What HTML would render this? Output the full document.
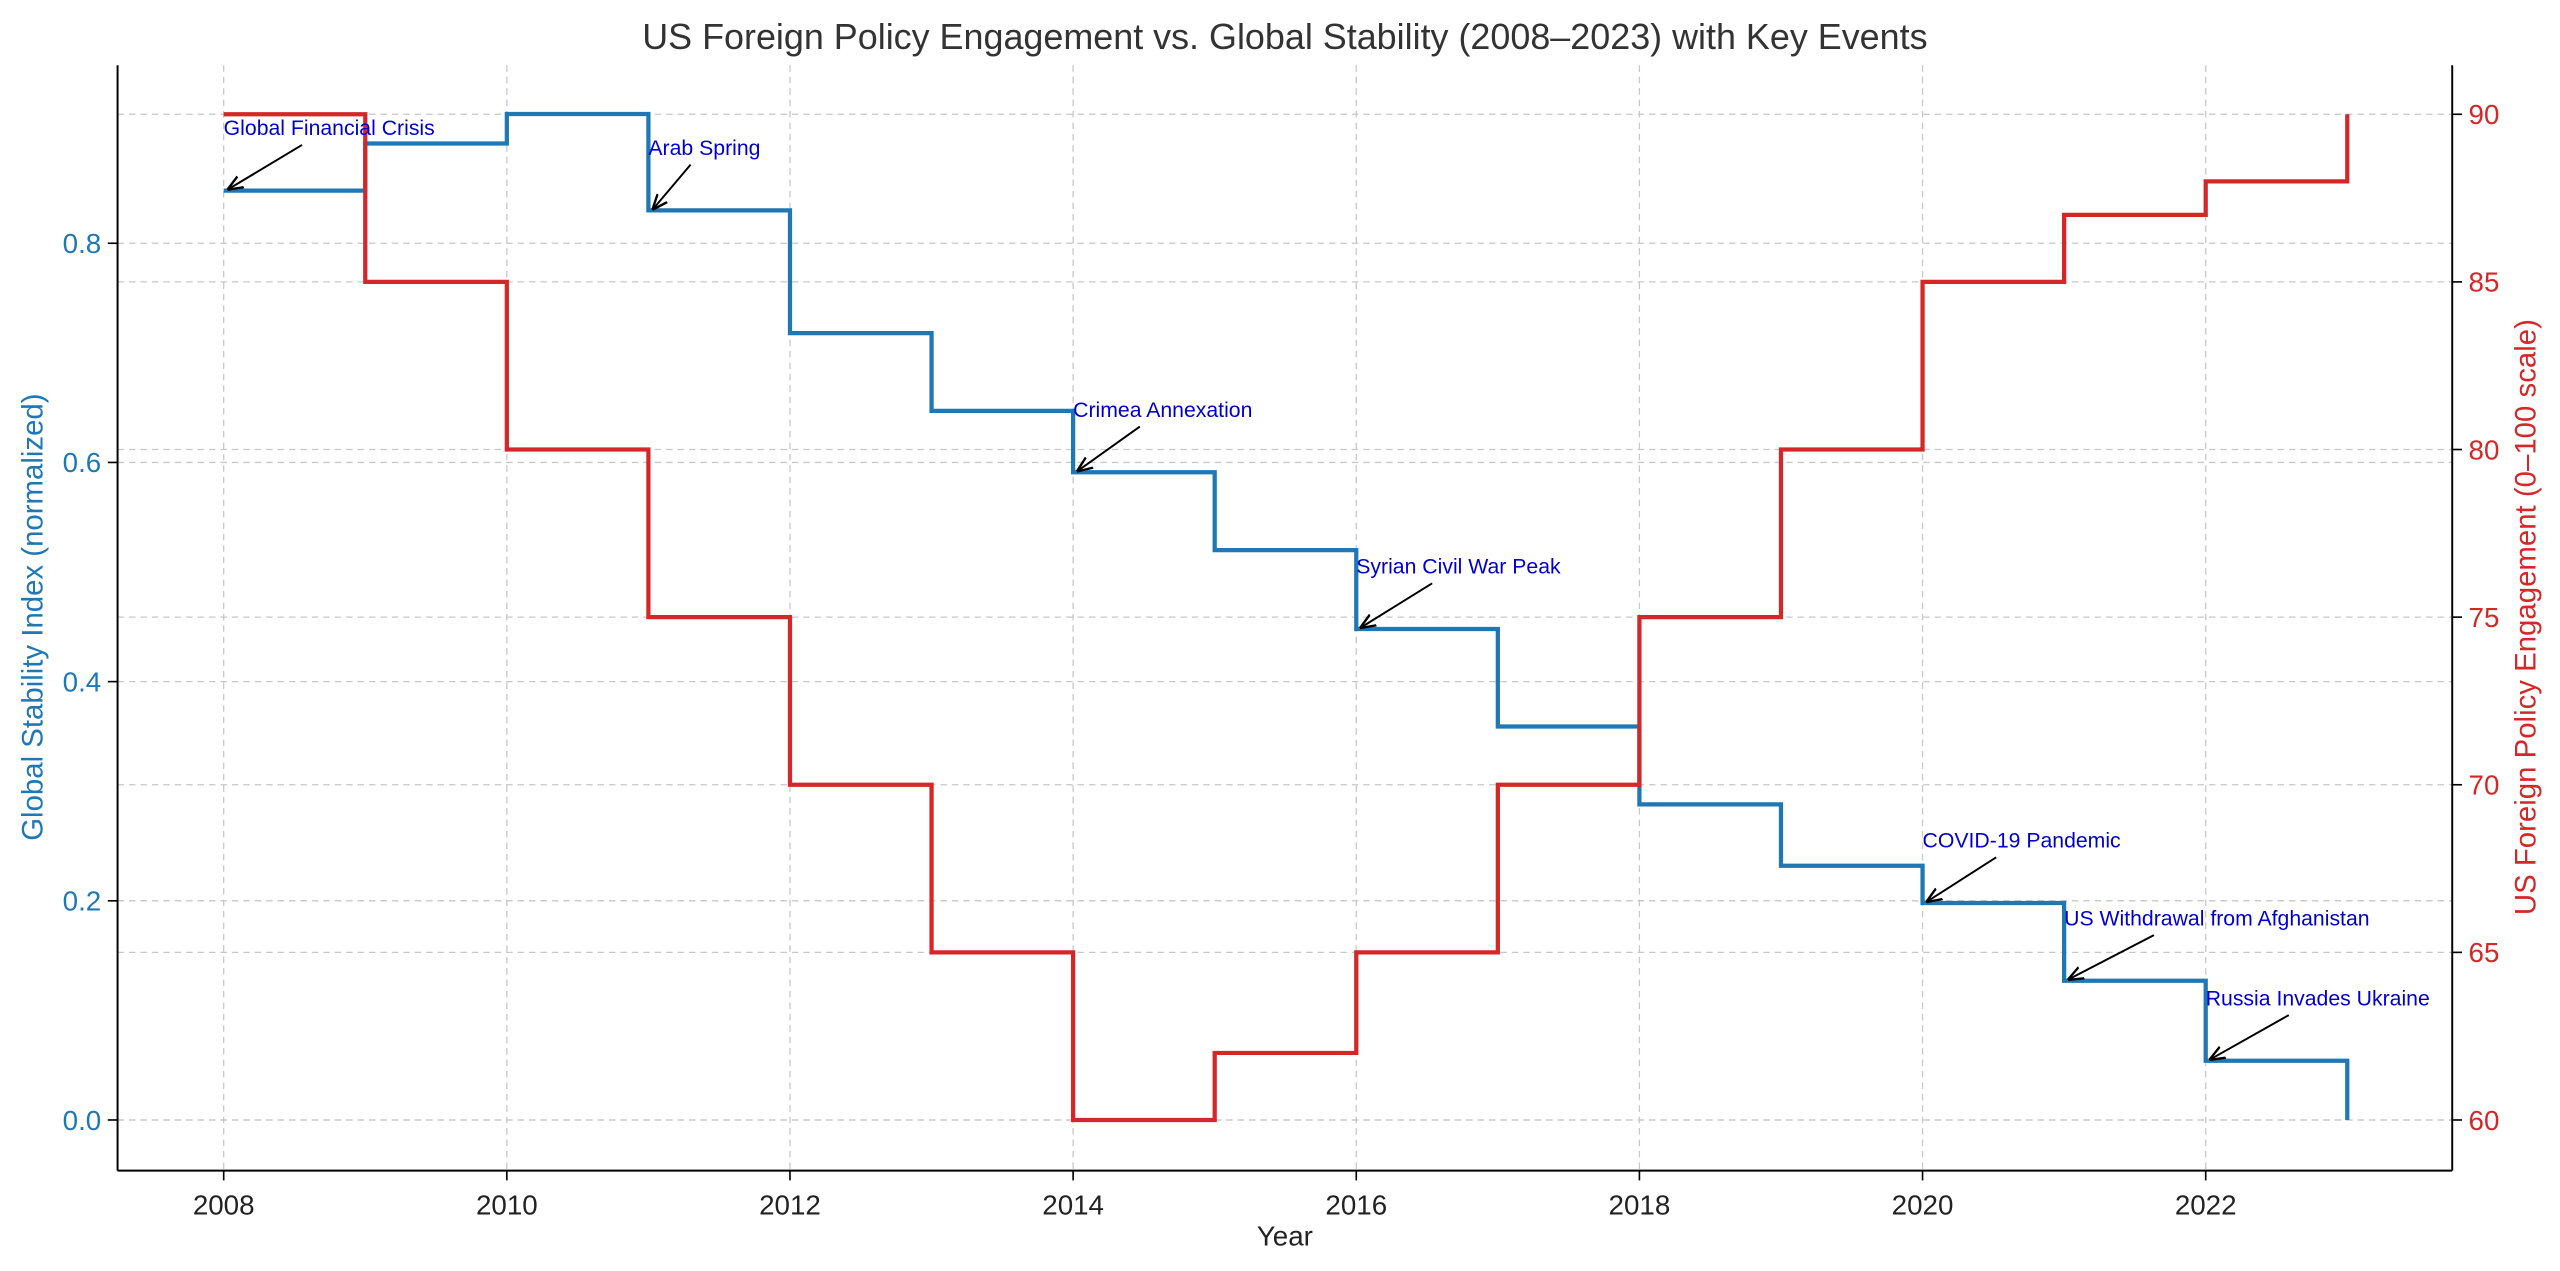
<!DOCTYPE html>
<html><head><meta charset="utf-8"><style>
html,body{margin:0;padding:0;background:#fff;overflow:hidden;}
svg{display:block;font-family:"Liberation Sans","DejaVu Sans",sans-serif;}
</style></head><body>
<svg id="chart" width="2560" height="1271" viewBox="0 0 1568 778.5" xmlns="http://www.w3.org/2000/svg">
<rect width="1568" height="778.5" fill="#fff"/>
<text x="787" y="30" text-anchor="middle" font-size="22" fill="#333">US Foreign Policy Engagement vs. Global Stability (2008–2023) with Key Events</text>
<g id="grid"></g>
<g id="series"></g>
<g id="annots"></g>
<g id="axes"></g>
<text x="787" y="763" text-anchor="middle" font-size="17" fill="#222">Year</text>
<text transform="translate(26,378) rotate(-90)" text-anchor="middle" font-size="18" fill="#1f77b4">Global Stability Index (normalized)</text>
<text transform="translate(1553,378) rotate(-90)" text-anchor="middle" font-size="18" fill="#d62728">US Foreign Policy Engagement (0–100 scale)</text>
</svg>
<script>
const years=[2008,2009,2010,2011,2012,2013,2014,2015,2016,2017,2018,2019,2020,2021,2022,2023];
const stability=[0.848,0.891,0.918,0.830,0.718,0.647,0.591,0.520,0.448,0.359,0.288,0.232,0.198,0.127,0.054,0.0];
const engagement=[90,85,80,75,70,65,60,62,65,70,75,80,85,87,88,90];
const xTicks=[2008,2010,2012,2014,2016,2018,2020,2022];
const leftTicks=[0.0,0.2,0.4,0.6,0.8];
const rightTicks=[60,65,70,75,80,85,90];
const eventNames=["Global Financial Crisis","Arab Spring","Crimea Annexation","Syrian Civil War Peak","COVID-19 Pandemic","US Withdrawal from Afghanistan","Russia Invades Ukraine"];
const eventYears=[2008,2011,2014,2016,2020,2021,2022];

const L=72,R=1502,T=40,B=717;
const X=y=>137+(y-2008)*(1351-137)/14;
const YL=v=>686-v*(686-149)/0.8;
const YR=v=>686-(v-60)*(686-70)/30;
const NS="http://www.w3.org/2000/svg";
function mk(tag,parent,attrs){const e=document.createElementNS(NS,tag);for(const k in attrs)e.setAttribute(k,attrs[k]);parent.appendChild(e);return e;}
const grid=document.getElementById('grid'),series=document.getElementById('series'),ann=document.getElementById('annots'),axes=document.getElementById('axes');
const gs={stroke:"#c8c8c8","stroke-width":0.8,"stroke-dasharray":"4,3"};
xTicks.forEach(t=>{const e=mk('line',grid,Object.assign({x1:X(t),x2:X(t),y1:T,y2:B},gs));

});
leftTicks.forEach(t=>{const e=mk('line',grid,Object.assign({x1:L,x2:R,y1:YL(t),y2:YL(t)},gs));

});
rightTicks.forEach(t=>{const e=mk('line',grid,Object.assign({x1:L,x2:R,y1:YR(t),y2:YR(t)},gs));

});
function stepPath(vals,fy){let d="M"+X(years[0])+","+fy(vals[0]);for(let i=1;i<years.length;i++){d+=" H"+X(years[i])+" V"+fy(vals[i]);}return d;}
const p1=mk('path',series,{d:stepPath(stability,YL),fill:"none",stroke:"#1f77b4","stroke-width":2.6});


const p2=mk('path',series,{d:stepPath(engagement,YR),fill:"none",stroke:"#d62728","stroke-width":2.6});


const ax={stroke:"#000","stroke-width":1.2};
mk('line',axes,Object.assign({x1:L,x2:R,y1:B,y2:B},ax));
mk('line',axes,Object.assign({x1:L,x2:L,y1:T,y2:B},ax));
mk('line',axes,Object.assign({x1:R,x2:R,y1:T,y2:B},ax));
xTicks.forEach(t=>{mk('line',axes,{x1:X(t),x2:X(t),y1:B,y2:B+6,stroke:"#000"});
const e=mk('text',axes,{x:X(t),y:B+27,"text-anchor":"middle","font-size":17,fill:"#222"});e.textContent=t;

});
leftTicks.forEach(t=>{mk('line',axes,{x1:L-6,x2:L,y1:YL(t),y2:YL(t),stroke:"#000"});
const e=mk('text',axes,{x:L-10,y:YL(t)+6,"text-anchor":"end","font-size":17,fill:"#1f77b4"});e.textContent=t.toFixed(1);

});
rightTicks.forEach(t=>{mk('line',axes,{x1:R,x2:R+6,y1:YR(t),y2:YR(t),stroke:"#000"});
const e=mk('text',axes,{x:R+10,y:YR(t)+6,"text-anchor":"start","font-size":17,fill:"#d62728"});e.textContent=t;

});
mk('defs',ann,{}).innerHTML='<marker id="ah" viewBox="0 0 10 10" refX="9" refY="5" markerWidth="8" markerHeight="8" orient="auto"><path d="M0,1 L10,5 L0,9" fill="none" stroke="#000" stroke-width="1.5"/></marker>';
eventNames.forEach((n,i)=>{const yr=eventYears[i];const v=stability[years.indexOf(yr)];
const px=X(yr)+3,py=YL(v)-1;const tx=X(yr),ty=YL(v)-34;
const t=mk('text',ann,{x:tx,y:ty,"font-size":13,fill:"#0000cd"});t.textContent=n;


const w=t.getComputedTextLength();const cx=tx+w/2,cy=ty-4;const by=ty+6;
let sx=cx+(px-cx)*(by-cy)/(py-cy);
if(sx-tx>55)sx=tx+55;
const a=mk('line',ann,{x1:sx,y1:by,x2:px,y2:py,stroke:"#000","stroke-width":1.2,"marker-end":"url(#ah)"});

});
</script>
</body></html>
